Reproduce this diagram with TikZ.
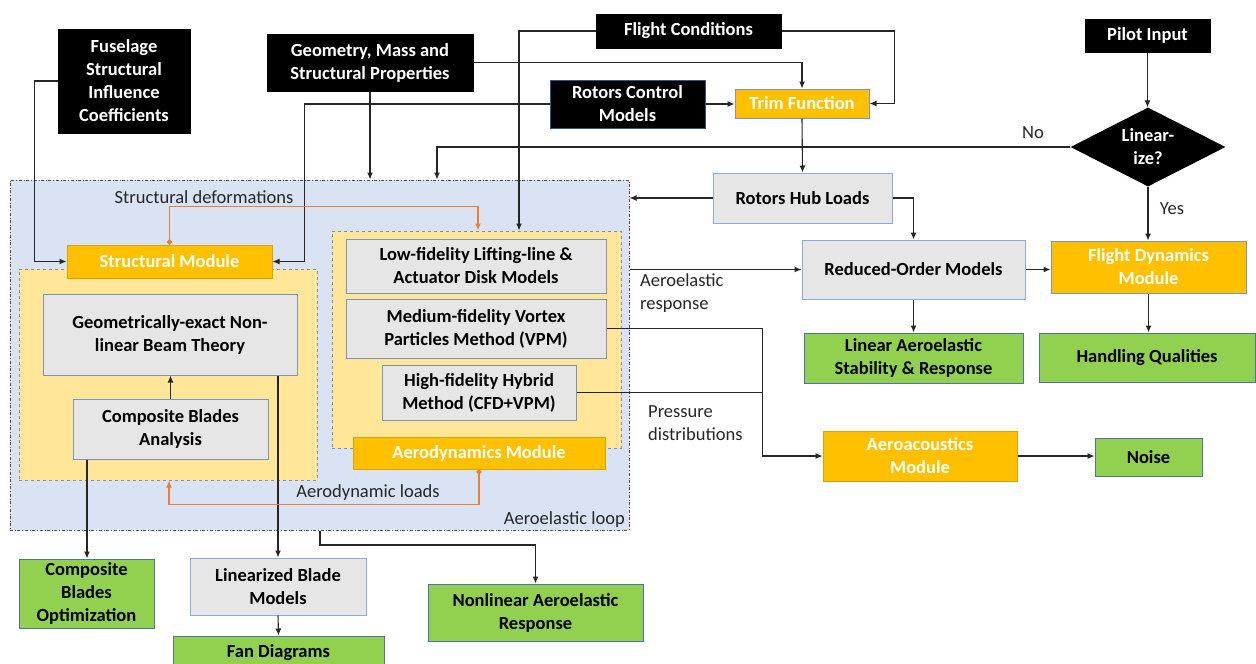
\documentclass[tikz,border=0pt]{standalone}
\usepackage{fontspec}
\setmainfont{Carlito}
\usetikzlibrary{shapes.geometric,arrows.meta,calc}
\definecolor{orfill}{HTML}{FFC000}
\definecolor{orborder}{HTML}{D9A400}
\definecolor{trimborder}{HTML}{7A95C6}
\definecolor{grfill}{HTML}{E7E6E6}
\definecolor{grborder}{HTML}{8EA9DB}
\definecolor{inborder}{HTML}{7F93B3}
\definecolor{gnfill}{HTML}{92D050}
\definecolor{gnborder}{HTML}{4F73A8}
\definecolor{loopfill}{HTML}{DAE3F3}
\definecolor{regfill}{HTML}{FFE699}
\definecolor{regborder}{HTML}{7F8FA9}
\definecolor{orline}{HTML}{ED7D31}
\definecolor{rcmborder}{HTML}{2F5597}
\newcommand\bfnt{\fontsize{18.5}{23}\selectfont\bfseries}
\newcommand\rfnt{\fontsize{18.5}{23}\selectfont}
\begin{document}
\begin{tikzpicture}[x=1pt,y=-1pt,
  box/.style={rectangle, inner sep=0pt, align=center, font=\bfnt, line width=1pt},
  blackbox/.style={box, fill=black, draw=black, text=white},
  orangebox/.style={box, fill=orfill, draw=orborder, text=white},
  graybox/.style={box, fill=grfill, draw=grborder, text=black},
  innerbox/.style={box, fill=grfill, draw=inborder, text=black},
  greenbox/.style={box, fill=gnfill, draw=gnborder, text=black},
  region/.style={rectangle, inner sep=0pt, fill=regfill, draw=regborder, dashed, line width=1pt},
  lbl/.style={font=\rfnt, inner sep=0pt, text=black!85},
  arr/.style={draw=black!85, line width=1.1pt, -{Latex[length=7pt,width=6pt]}},
  ln/.style={draw=black!85, line width=1.1pt},
  oarr/.style={draw=orline, line width=1.4pt, {Circle[length=5pt]}-{Latex[length=7pt,width=6pt]}}
]
\useasboundingbox (0,0) rectangle (1256,664);

% aeroelastic loop and module regions
\node[rectangle, inner sep=0pt, fill=loopfill, draw=black!70, dash dot, line width=1pt,
      minimum width=619, minimum height=350] (loop) at (319.5,355) {};
\node[region, minimum width=298, minimum height=211] (sreg) at (168,374.5) {};
\node[region, minimum width=289, minimum height=217] (areg) at (476.5,339.5) {};

% top inputs
\node[blackbox, minimum width=132, minimum height=104] (fus) at (124,81) {Fuselage\\Structural\\Influence\\Coefficients};
\node[blackbox, minimum width=206, minimum height=57] (geo) at (370,62.5) {Geometry, Mass and\\Structural Properties};
\node[blackbox, minimum width=185, minimum height=34] (fc) at (688.5,31) {Flight Conditions};
\node[blackbox, minimum width=125, minimum height=33] (pilot) at (1147.5,35.5) {Pilot Input};
\node[blackbox, draw=rcmborder, minimum width=155, minimum height=48] (rcm) at (627.5,104) {Rotors Control\\Models};
\node[orangebox, draw=trimborder, minimum width=134, minimum height=29] (trim) at (802,103.5) {Trim Function};
\node[diamond, aspect=2, fill=black, text=white, font=\bfnt, align=center, inner sep=0pt,
      minimum width=155, minimum height=79] (dia) at (1148,147) {Linear-\\ize?};

% right side
\node[graybox, minimum width=179, minimum height=50] (rhl) at (802.5,198) {Rotors Hub Loads};
\node[graybox, minimum width=223, minimum height=59] (rom) at (913.5,269.5) {Reduced-Order Models};
\node[orangebox, draw=trimborder, minimum width=195, minimum height=52] (fdm) at (1148.5,267) {Flight Dynamics\\Module};
\node[greenbox, minimum width=219, minimum height=50] (las) at (913.5,358) {Linear Aeroelastic\\Stability \& Response};
\node[greenbox, minimum width=216, minimum height=49] (hq) at (1147,357.5) {Handling Qualities};
\node[orangebox, minimum width=194, minimum height=50] (aam) at (920,456) {Aeroacoustics\\Module};
\node[greenbox, minimum width=107, minimum height=38] (noise) at (1148.5,457) {Noise};

% structural module
\node[orangebox, minimum width=205, minimum height=33] (smod) at (169.5,261.5) {Structural Module};
\node[innerbox, minimum width=254, minimum height=81] (gex) at (170,334.5) {Geometrically-exact Non-\\linear Beam Theory};
\node[innerbox, minimum width=195, minimum height=60] (cba) at (170.5,429) {Composite Blades\\Analysis};

% aerodynamics module
\node[innerbox, minimum width=260, minimum height=54] (low) at (476,266) {Low-fidelity Lifting-line \&\\Actuator Disk Models};
\node[innerbox, minimum width=260, minimum height=59] (med) at (476,328.5) {Medium-fidelity Vortex\\Particles Method (VPM)};
\node[innerbox, minimum width=194, minimum height=55] (high) at (479,392.5) {High-fidelity Hybrid\\Method (CFD+VPM)};
\node[orangebox, minimum width=252, minimum height=32] (amod) at (479,453) {Aerodynamics Module};

% bottom outputs
\node[greenbox, minimum width=135, minimum height=69] (cbo) at (86.5,593.5) {Composite\\Blades\\Optimization};
\node[graybox, minimum width=176, minimum height=57] (lbm) at (278,586.5) {Linearized Blade\\Models};
\node[greenbox, minimum width=211, minimum height=34] (fan) at (278.5,653) {Fan Diagrams};
\node[greenbox, minimum width=215, minimum height=57] (nar) at (535.5,612.5) {Nonlinear Aeroelastic\\Response};

% labels
\node[lbl] at (204,197) {Structural deformations};
\node[lbl] at (368,493) {Aerodynamic loads};
\node[lbl, anchor=east] at (625,520) {Aeroelastic loop};
\node[lbl, anchor=west, align=left] at (640,293.5) {Aeroelastic\\response};
\node[lbl, anchor=west, align=left] at (648,423) {Pressure\\distributions};
\node[lbl] at (1033,133) {No};
\node[lbl] at (1172,209) {Yes};

% connectors
\draw[arr] (fus.west) -- ++(-23,0) |- (smod.west);
\draw[arr] (geo.south) -- (geo.south |- loop.north);
\draw[arr] (geo.east) -| (trim.north);
\draw[arr] (rcm.west) -- ++(-245,0) |- (smod.east);
\draw[arr] (rcm.east) -- (rcm.east -| trim.west);
\draw[arr] (fc.west) -| (519,0 |- areg.north);
\draw[arr] (fc.east) -- ++(113,0) |- (trim.east);
\draw[arr] (trim.south) -- (rhl.north);
\draw[arr] (pilot.south) -- (pilot.south |- dia.north);
\draw[arr] (dia.west) -| (437,0 |- loop.north);
\draw[arr] (dia.south) -- (dia.south |- fdm.north);
\draw[arr] (rhl.west) -- (rhl.west -| loop.east);
\draw[arr] (rhl.east) -| (rom.north);
\draw[arr] (rom.west -| loop.east) -- (rom.west);
\draw[arr] (rom.east) -- (rom.east -| fdm.west);
\draw[arr] (rom.south) -- (rom.south |- las.north);
\draw[arr] (fdm.south) -- (fdm.south |- hq.north);
\draw[arr] (med.east) -- ++(156,0) |- (aam.west);
\draw[ln] (high.east) -- (high.east -| 762,0);
\draw[arr] (aam.east) -- (aam.east -| noise.west);
\draw[arr] (cba.north) -- (cba.north |- gex.south);
\draw[arr] (87,0 |- cba.south) -- (87,0 |- cbo.north);
\draw[arr] (278,0 |- gex.south) -- (lbm.north);
\draw[arr] (lbm.south) -- (fan.north);
\draw[arr] (320,0 |- loop.south) -- (320,545) -| (nar.north);

% aeroelastic coupling
\draw[oarr] (smod.north) -- ++(0,-38) -| (478,0 |- areg.north);
\draw[oarr] (amod.south) -- ++(0,35) -| (169,0 |- sreg.south);
\end{tikzpicture}
\end{document}
